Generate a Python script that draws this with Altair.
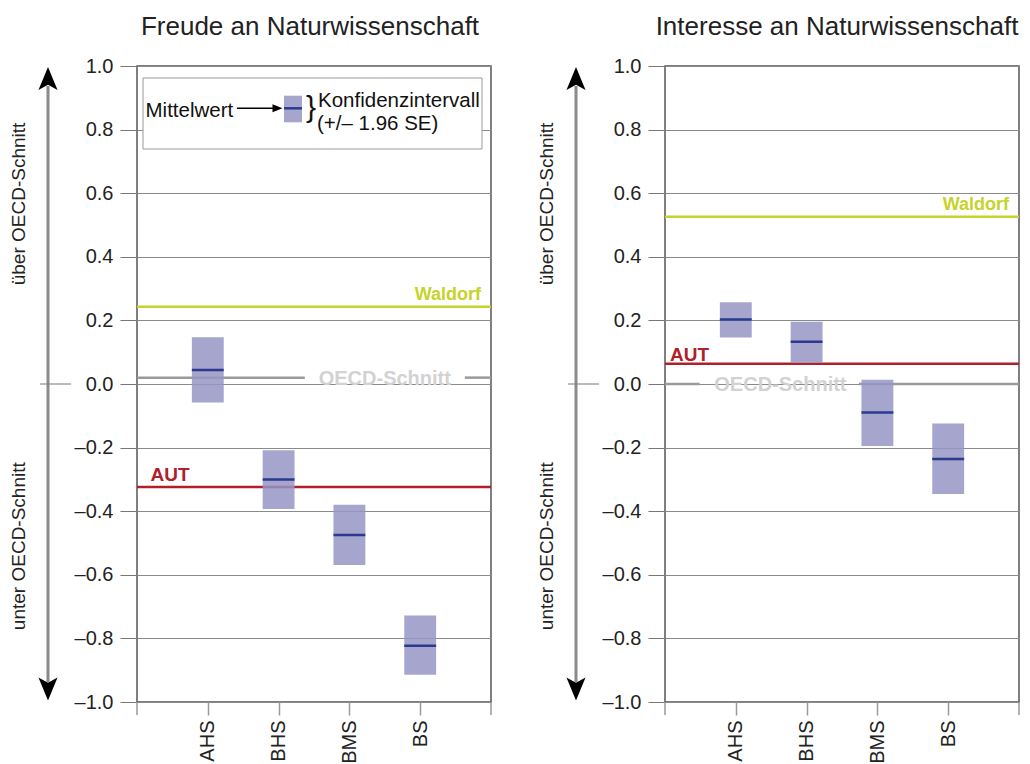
import altair as alt
import pandas as pd

FONT = "Liberation Sans"

categories = ["AHS", "BHS", "BMS", "BS"]
positions = [1, 2, 3, 4]

freude_mean = [0.044, -0.300, -0.475, -0.823]
freude_low = [-0.058, -0.393, -0.569, -0.914]
freude_high = [0.147, -0.208, -0.380, -0.728]

interesse_mean = [0.203, 0.133, -0.090, -0.236]
interesse_low = [0.146, 0.067, -0.195, -0.346]
interesse_high = [0.257, 0.196, 0.013, -0.124]

ref_names = ["Waldorf", "AUT", "OECD-Schnitt"]
freude_ref = [0.243, -0.324, 0.020]
interesse_ref = [0.526, 0.064, 0.000]

y_ticks = [-1.0, -0.8, -0.6, -0.4, -0.2, 0.0, 0.2, 0.4, 0.6, 0.8, 1.0]
edge_ticks = [0, 5]

BOX = "#9595c5"
NAVY = "#2b3a8f"
WALDORF = "#c5d32a"
AUT = "#b0202a"
OECD_LINE = "#9a9a9a"
OECD_TEXT = "#d2d2d2"

W, H = 354, 636

label_expr = " : ".join(
    f"datum.value == {p} ? '{c}'" for p, c in zip(positions, categories)
) + " : ''"

xscale = alt.Scale(domain=[0, 5], nice=False, zero=False)
yscale = alt.Scale(domain=[-1, 1], nice=False, zero=False)

xaxis = alt.Axis(values=positions, labelExpr=label_expr, labelAngle=270, tickSize=13,
                 tickColor="#9a9a9a", tickWidth=1.5, labelPadding=5, labelFontSize=20,
                 labelColor="#222", grid=False, domain=False, title=None, labelFlush=False)
yaxis = alt.Axis(values=y_ticks, grid=True, gridColor="#8a8a8a", gridWidth=1,
                 tickSize=17, tickColor="#777", labelPadding=7, labelFontSize=20,
                 labelColor="#222", domain=False, title=None,
                 labelExpr="datum.value < -0.00001 ? '\u2013' + format(-datum.value, '.1f') : format(abs(datum.value), '.1f')")


def one():
    return pd.DataFrame({"k": [0]})


def panel(title, means, lows, highs, refs, oecd_gap, oecd_text_x, aut_px, aut_dy,
          with_legend, title_dx):
    df = pd.DataFrame({"cat": categories, "pos": positions,
                       "mean": means, "low": lows, "high": highs})
    ref = dict(zip(ref_names, refs))

    boxes = alt.Chart(df).transform_calculate(
        xl="datum.pos - 0.225", xr="datum.pos + 0.225"
    ).mark_rect(color=BOX, opacity=0.85).encode(
        x=alt.X("xl:Q", scale=xscale, axis=xaxis, title=None),
        x2="xr:Q",
        y=alt.Y("low:Q", scale=yscale, axis=yaxis, title=None),
        y2="high:Q",
    )
    means_l = alt.Chart(df).transform_calculate(
        xl="datum.pos - 0.225", xr="datum.pos + 0.225"
    ).mark_rule(color=NAVY, strokeWidth=2.5).encode(
        x=alt.X("xl:Q", title=None), x2="xr:Q", y=alt.Y("mean:Q", title=None))

    edge_df = pd.DataFrame({"e": edge_ticks})
    edges = alt.Chart(edge_df).mark_rule(color="#9a9a9a", strokeWidth=1.5).encode(
        x=alt.X("e:Q", title=None), y=alt.value(H), y2=alt.value(H + 13))

    wal_df = pd.DataFrame({"v": [ref["Waldorf"]], "t": ["Waldorf"]})
    aut_df = pd.DataFrame({"v": [ref["AUT"]], "t": ["AUT"]})
    oecd_seg = pd.DataFrame({"x1": [0, oecd_gap[1]], "x2": [oecd_gap[0], 5],
                             "v": [ref["OECD-Schnitt"]] * 2})
    oecd_df = pd.DataFrame({"v": [ref["OECD-Schnitt"]], "t": ["OECD-Schnitt"],
                            "x": [oecd_text_x]})

    wal_rule = alt.Chart(wal_df).mark_rule(color=WALDORF, strokeWidth=2.5).encode(
        y=alt.Y("v:Q", title=None))
    aut_rule = alt.Chart(aut_df).mark_rule(color=AUT, strokeWidth=2.5).encode(
        y=alt.Y("v:Q", title=None))
    oecd_rule = alt.Chart(oecd_seg).mark_rule(color=OECD_LINE, strokeWidth=2.5).encode(
        x=alt.X("x1:Q", title=None), x2="x2:Q", y=alt.Y("v:Q", title=None))

    wal_text = alt.Chart(wal_df).mark_text(
        align="right", baseline="alphabetic", dy=-7, fontSize=18, fontWeight="bold",
        color=WALDORF).encode(x=alt.value(W - 10), y=alt.Y("v:Q", title=None), text="t:N")
    aut_text = alt.Chart(aut_df).mark_text(
        align="left", baseline="alphabetic", dy=aut_dy, fontSize=19, fontWeight="bold",
        color=AUT).encode(x=alt.value(aut_px), y=alt.Y("v:Q", title=None), text="t:N")
    oecd_text = alt.Chart(oecd_df).mark_text(
        align="center", baseline="middle", dy=1, fontSize=20, fontWeight="bold",
        color=OECD_TEXT).encode(x=alt.X("x:Q", title=None), y=alt.Y("v:Q", title=None),
                                text="t:N")

    # decorations on the left of the y axis
    shaft = alt.Chart(one()).mark_rule(color="#8a8a8a", strokeWidth=3).encode(
        x=alt.value(-89), y=alt.value(20), y2=alt.value(616))
    head_up = alt.Chart(one()).mark_point(
        shape="M0,-1 L0.83,1 L0,0.55 L-0.83,1 Z", filled=True, size=529,
        color="black", opacity=1).encode(x=alt.value(-89), y=alt.value(12.5))
    head_dn = alt.Chart(one()).mark_point(
        shape="M0,1 L0.83,-1 L0,-0.55 L-0.83,-1 Z", filled=True, size=529,
        color="black", opacity=1).encode(x=alt.value(-89), y=alt.value(623))
    zero_df = pd.DataFrame({"v": [0.0]})
    zero_line = alt.Chart(zero_df).mark_rule(color="#777", strokeWidth=1).encode(
        x=alt.value(-97), x2=alt.value(-66), y=alt.Y("v:Q", title=None))
    side_df = pd.DataFrame({"v": [0.566, -0.51],
                            "t": ["über OECD-Schnitt", "unter OECD-Schnitt"]})
    side_text = alt.Chart(side_df).mark_text(
        angle=270, align="center", baseline="middle", fontSize=19, color="#222"
    ).encode(x=alt.value(-118.5), y=alt.Y("v:Q", title=None), text="t:N")

    layers = [aut_rule, wal_rule, oecd_rule, boxes, means_l, edges, wal_text, aut_text,
              oecd_text, shaft, head_up, head_dn, zero_line, side_text]

    if with_legend:
        lg_box = alt.Chart(one()).mark_rect(fill="white", stroke="#999", strokeWidth=1).encode(
            x=alt.value(6), x2=alt.value(345), y=alt.value(12), y2=alt.value(83))
        lg_txt = pd.DataFrame({"t": ["Mittelwert", "Konfidenzintervall", "(+/\u2013 1.96 SE)"],
                               "px": [8.5, 181, 180], "py": [45, 34.5, 58]})
        lg_text = alt.Chart(lg_txt).mark_text(
            align="left", baseline="middle", fontSize=20.5, color="#111").encode(
            x=alt.X("px:Q", scale=None), y=alt.Y("py:Q", scale=None), text="t:N")
        lg_arrow = alt.Chart(one()).mark_rule(color="black", strokeWidth=1.5).encode(
            x=alt.value(100), x2=alt.value(140), y=alt.value(42.3))
        lg_head = alt.Chart(one()).mark_point(
            shape="M-1,-0.8 L1,0 L-1,0.8 Z", filled=True, size=100, color="black",
            opacity=1).encode(x=alt.value(140.5), y=alt.value(42.3))
        lg_rect = alt.Chart(one()).mark_rect(color=BOX, opacity=0.85).encode(
            x=alt.value(147), x2=alt.value(165), y=alt.value(29.7), y2=alt.value(56.3))
        lg_mean = alt.Chart(one()).mark_rule(color=NAVY, strokeWidth=2.5).encode(
            x=alt.value(147), x2=alt.value(165), y=alt.value(42.3))
        lg_brace = alt.Chart(one()).mark_text(
            text="}", align="center", baseline="middle", fontSize=30, color="#111").encode(
            x=alt.value(174), y=alt.value(42))
        layers += [lg_box, lg_text, lg_arrow, lg_head, lg_rect, lg_mean, lg_brace]

    return alt.layer(*layers).properties(
        width=W, height=H,
        title=alt.TitleParams(title, fontSize=26, fontWeight="normal", color="#222",
                              anchor="middle", frame="group", offset=-5,
                              baseline="alphabetic", dx=title_dx),
    )


left = panel("Freude an Naturwissenschaft", freude_mean, freude_low, freude_high,
             freude_ref, (2.37, 4.63), 3.5, 13.5, -6, True, -4)
right = panel("Interesse an Naturwissenschaft", interesse_mean, interesse_low,
              interesse_high, interesse_ref, (0.49, 2.74), 1.63, 5, -3, False, -5)

chart = alt.hconcat(left, right, spacing=43).configure(
    font=FONT, padding={"left": 0, "top": 5, "right": 0, "bottom": 5}
).configure_view(stroke="#555", strokeWidth=1.5)

chart.save("out.html", embed_options={"renderer": "svg", "actions": False})
